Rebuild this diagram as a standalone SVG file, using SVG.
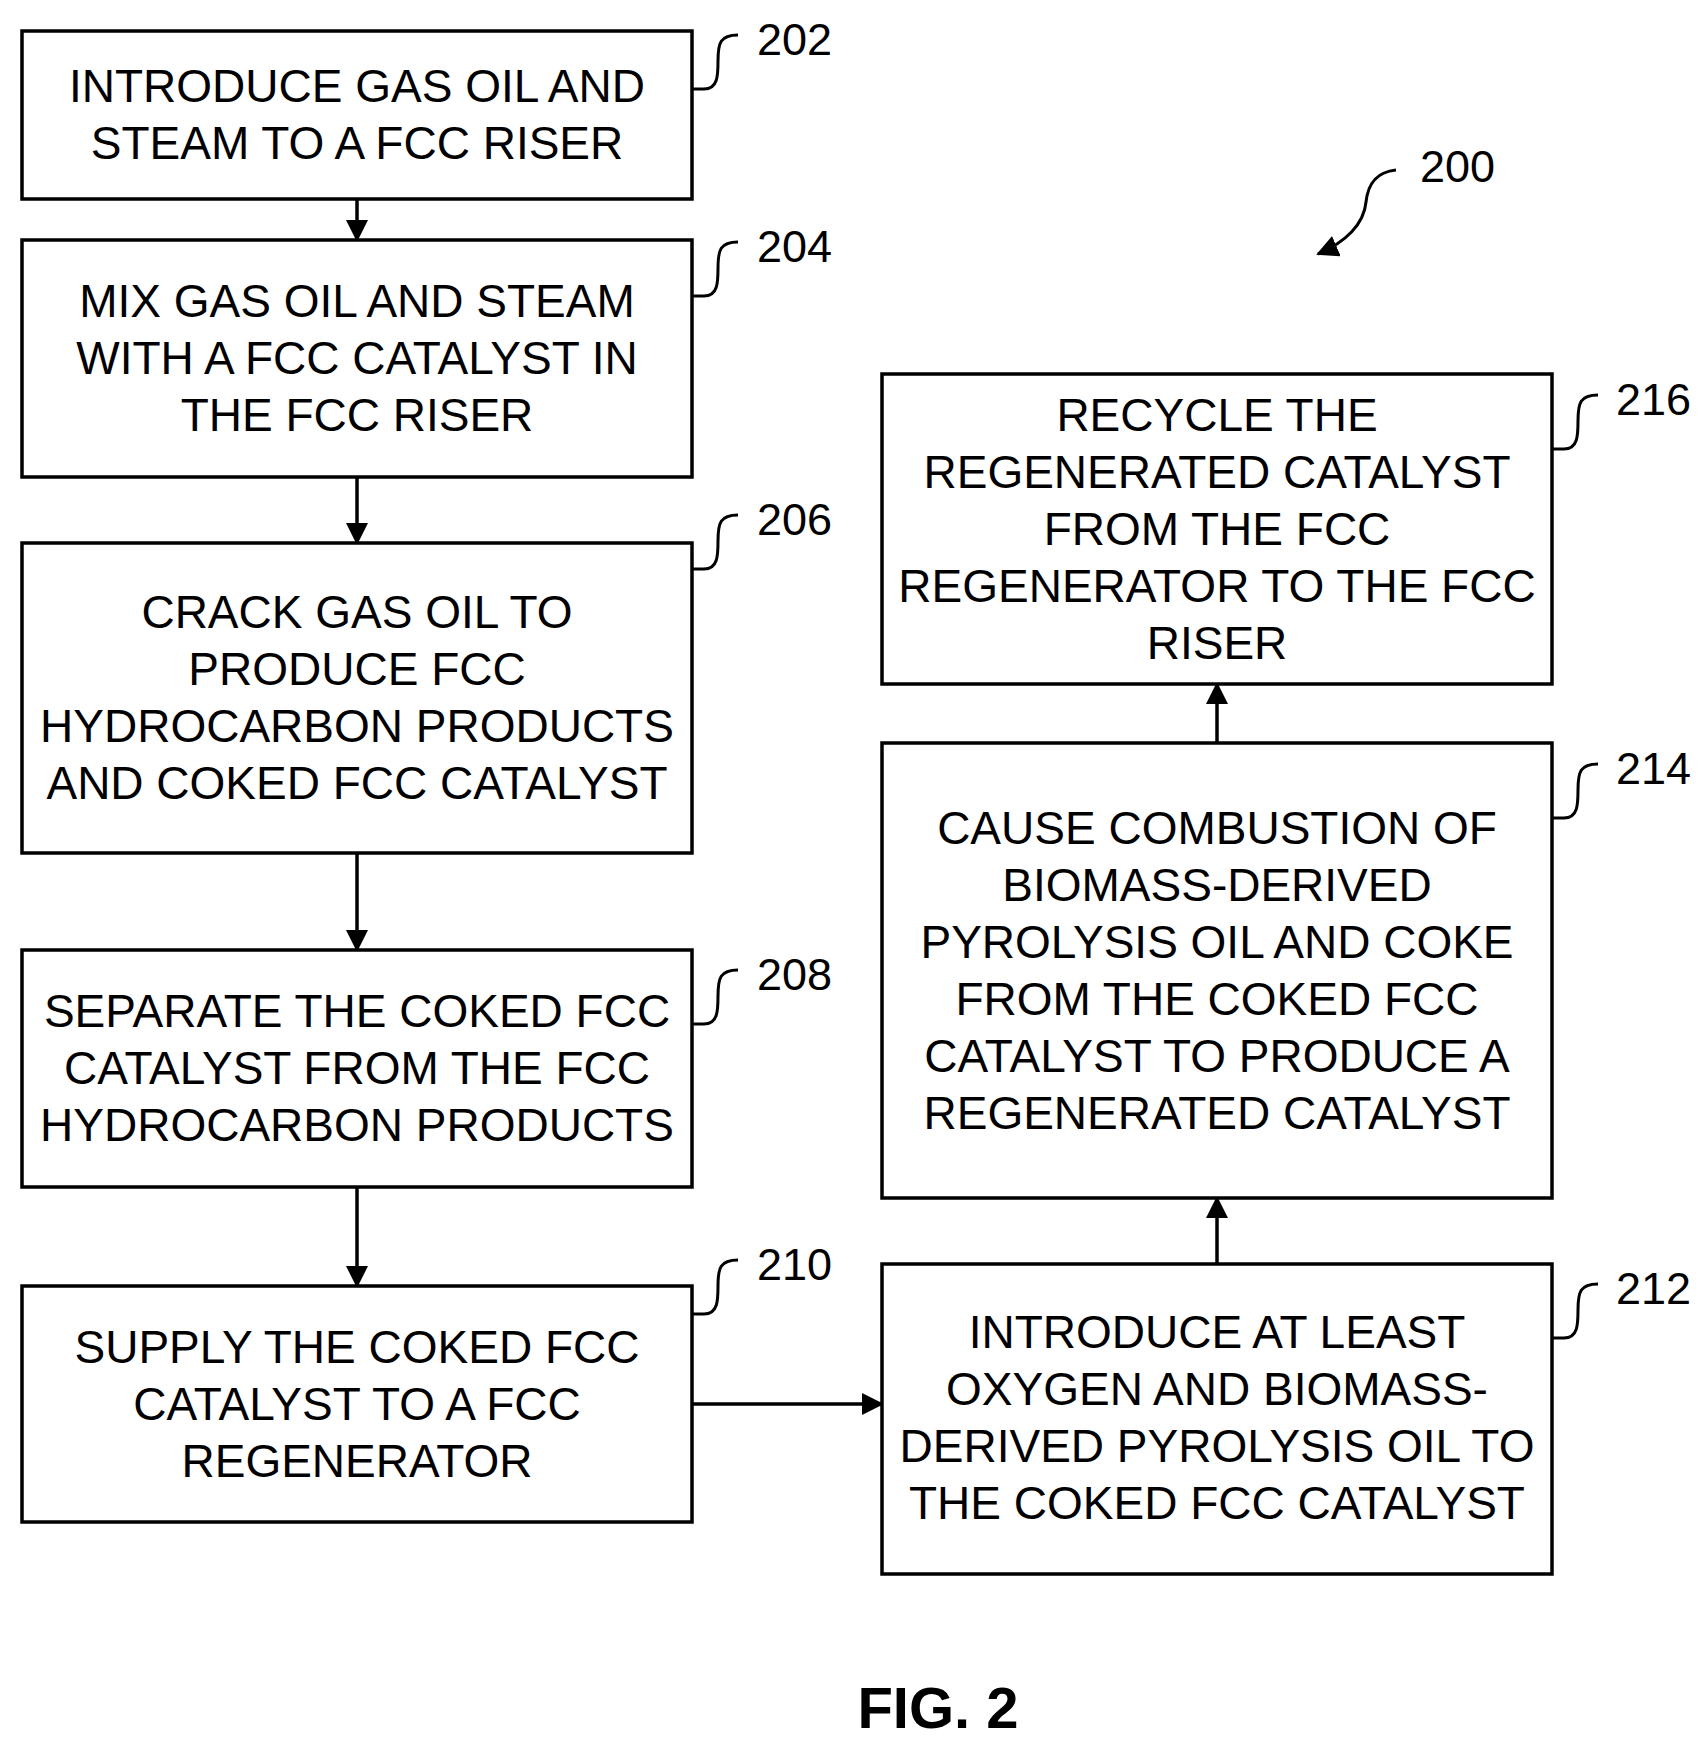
<svg xmlns="http://www.w3.org/2000/svg" width="1704" height="1742" viewBox="0 0 1704 1742">
<defs>
<style>
.box{fill:#fff;stroke:#000;stroke-width:3.5}
.t{font-family:"Liberation Sans",Arial,sans-serif;font-size:46px;text-anchor:middle;dominant-baseline:central}
.n{font-family:"Liberation Sans",Arial,sans-serif;font-size:45px}
.c{fill:none;stroke:#000;stroke-width:3}
.e{fill:none;stroke:#000;stroke-width:3.5}
</style>
<marker id="ah2" markerWidth="22" markerHeight="22" refX="20" refY="11" orient="auto" markerUnits="userSpaceOnUse" viewBox="0 0 22 22"><path d="M0,0 L22,11 L0,22 z"/></marker>
</defs>
<rect width="1704" height="1742" fill="#fff"/>
<g id="connectors">
<line class="e" x1="357" y1="199" x2="357" y2="240" marker-end="url(#ah2)"/>
<line class="e" x1="357" y1="477" x2="357" y2="543" marker-end="url(#ah2)"/>
<line class="e" x1="357" y1="853" x2="357" y2="950" marker-end="url(#ah2)"/>
<line class="e" x1="357" y1="1187" x2="357" y2="1286" marker-end="url(#ah2)"/>
<line class="e" x1="692" y1="1404" x2="882" y2="1404" marker-end="url(#ah2)"/>
<line class="e" x1="1217" y1="1264" x2="1217" y2="1198" marker-end="url(#ah2)"/>
<line class="e" x1="1217" y1="743" x2="1217" y2="684" marker-end="url(#ah2)"/>
</g>
<g id="n202"><rect class="box" x="22" y="31" width="670" height="168"/>
<text class="t" x="357" y="86">INTRODUCE GAS OIL AND</text><text class="t" x="357" y="143">STEAM TO A FCC RISER</text></g>
<g id="n204"><rect class="box" x="22" y="240" width="670" height="237"/>
<text class="t" x="357" y="301">MIX GAS OIL AND STEAM</text><text class="t" x="357" y="358">WITH A FCC CATALYST IN</text><text class="t" x="357" y="415">THE FCC RISER</text></g>
<g id="n206"><rect class="box" x="22" y="543" width="670" height="310"/>
<text class="t" x="357" y="612">CRACK GAS OIL TO</text><text class="t" x="357" y="669">PRODUCE FCC</text><text class="t" x="357" y="726">HYDROCARBON PRODUCTS</text><text class="t" x="357" y="783">AND COKED FCC CATALYST</text></g>
<g id="n208"><rect class="box" x="22" y="950" width="670" height="237"/>
<text class="t" x="357" y="1011">SEPARATE THE COKED FCC</text><text class="t" x="357" y="1068">CATALYST FROM THE FCC</text><text class="t" x="357" y="1125">HYDROCARBON PRODUCTS</text></g>
<g id="n210"><rect class="box" x="22" y="1286" width="670" height="236"/>
<text class="t" x="357" y="1347">SUPPLY THE COKED FCC</text><text class="t" x="357" y="1404">CATALYST TO A FCC</text><text class="t" x="357" y="1461">REGENERATOR</text></g>
<g id="n216"><rect class="box" x="882" y="374" width="670" height="310"/>
<text class="t" x="1217" y="415">RECYCLE THE</text><text class="t" x="1217" y="472">REGENERATED CATALYST</text><text class="t" x="1217" y="529">FROM THE FCC</text><text class="t" x="1217" y="586">REGENERATOR TO THE FCC</text><text class="t" x="1217" y="643">RISER</text></g>
<g id="n214"><rect class="box" x="882" y="743" width="670" height="455"/>
<text class="t" x="1217" y="828">CAUSE COMBUSTION OF</text><text class="t" x="1217" y="885">BIOMASS-DERIVED</text><text class="t" x="1217" y="942">PYROLYSIS OIL AND COKE</text><text class="t" x="1217" y="999">FROM THE COKED FCC</text><text class="t" x="1217" y="1056">CATALYST TO PRODUCE A</text><text class="t" x="1217" y="1113">REGENERATED CATALYST</text></g>
<g id="n212"><rect class="box" x="882" y="1264" width="670" height="310"/>
<text class="t" x="1217" y="1332">INTRODUCE AT LEAST</text><text class="t" x="1217" y="1389">OXYGEN AND BIOMASS-</text><text class="t" x="1217" y="1446">DERIVED PYROLYSIS OIL TO</text><text class="t" x="1217" y="1503">THE COKED FCC CATALYST</text></g>
<g id="refs">
<path class="c" d="M692,89 h12 c14,0 14,-14 14,-28 c0,-18 2,-26 20,-26"/><text class="n" x="757" y="55">202</text>
<path class="c" d="M692,296 h12 c14,0 14,-14 14,-28 c0,-18 2,-26 20,-26"/><text class="n" x="757" y="262">204</text>
<path class="c" d="M692,569 h12 c14,0 14,-14 14,-28 c0,-18 2,-26 20,-26"/><text class="n" x="757" y="535">206</text>
<path class="c" d="M692,1024 h12 c14,0 14,-14 14,-28 c0,-18 2,-26 20,-26"/><text class="n" x="757" y="990">208</text>
<path class="c" d="M692,1314 h12 c14,0 14,-14 14,-28 c0,-18 2,-26 20,-26"/><text class="n" x="757" y="1280">210</text>
<path class="c" d="M1552,449 h12 c14,0 14,-14 14,-28 c0,-18 2,-26 20,-26"/><text class="n" x="1616" y="415">216</text>
<path class="c" d="M1552,818 h12 c14,0 14,-14 14,-28 c0,-18 2,-26 20,-26"/><text class="n" x="1616" y="784">214</text>
<path class="c" d="M1552,1338 h12 c14,0 14,-14 14,-28 c0,-18 2,-26 20,-26"/><text class="n" x="1616" y="1304">212</text>
<path class="c" d="M1396,170 c-20,2 -28,14 -30,32 c-2,22 -20,40 -48,52" marker-end="url(#ah2)"/><text class="n" x="1420" y="182">200</text>
</g>
<text x="938" y="1728" font-family="Liberation Sans,Arial,sans-serif" font-size="58" font-weight="bold" text-anchor="middle">FIG. 2</text>
</svg>
